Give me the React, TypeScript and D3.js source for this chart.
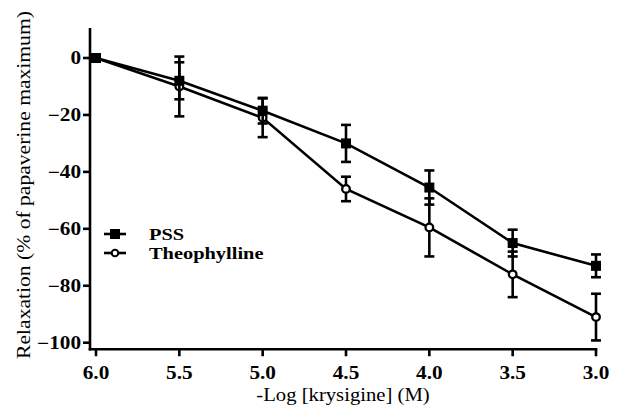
import React, { useEffect, useRef } from 'react';
import * as d3 from 'd3';

// -log concentrations on the x axis
const doses = [6.0, 5.5, 5.0, 4.5, 4.0, 3.5, 3.0];
const pssMean = [0, -8, -18.5, -30, -45.5, -65, -73];
const pssSem = [0, 6.5, 4.5, 6.5, 6, 4.7, 4];
const theoMean = [0, -10, -21, -46, -59.5, -76, -91];
const theoSem = [0, 10.5, 6.8, 4.3, 10.2, 8, 8.2];
const xTicks = [6.0, 5.5, 5.0, 4.5, 4.0, 3.5, 3.0];
const yTicks = [0, -20, -40, -60, -80, -100];
const seriesNames = ['PSS', 'Theophylline'];

const W = 618;
const H = 411;
const FONT = "'Times New Roman', 'Liberation Serif', serif";

export default function App() {
  const ref = useRef<SVGSVGElement>(null);

  useEffect(() => {
    const svg = d3.select(ref.current);
    svg.selectAll('*').remove();

    const x = d3.scaleLinear().domain([6.0, 3.0]).range([96, 596]);
    const y = d3.scaleLinear().domain([0, -100]).range([58, 342.7]);

    const axisX0 = x(6.036);
    const axisY0 = y(-102.3);
    const axisTop = y(10.5);

    // y axis
    const gy = svg.append('g').attr('transform', `translate(${axisX0},0)`);
    gy.append('line')
      .attr('y1', axisTop).attr('y2', axisY0 + 1.25)
      .attr('stroke', '#000').attr('stroke-width', 2.6);
    const yt = gy.selectAll('.yt').data(yTicks).enter().append('g')
      .attr('transform', (d) => `translate(0,${y(d)})`);
    yt.append('line').attr('x1', -7).attr('x2', 0)
      .attr('stroke', '#000').attr('stroke-width', 2.6);
    yt.append('text')
      .attr('transform', 'translate(-9,0) scale(1.18,1)')
      .attr('text-anchor', 'end')
      .attr('dy', '0.34em')
      .style('font-family', FONT).style('font-size', '18px').style('font-weight', 'bold')
      .text((d) => d3.format('d')(d));

    // x axis
    const gx = svg.append('g').attr('transform', `translate(0,${axisY0})`);
    gx.append('line')
      .attr('x1', axisX0 - 1.3).attr('x2', x(3.0) + 1.3)
      .attr('stroke', '#000').attr('stroke-width', 2.6);
    const xt = gx.selectAll('.xt').data(xTicks).enter().append('g')
      .attr('transform', (d) => `translate(${x(d)},0)`);
    xt.append('line').attr('y1', 0).attr('y2', 7)
      .attr('stroke', '#000').attr('stroke-width', 2.6);
    xt.append('text')
      .attr('transform', 'translate(0,30) scale(1.18,1)')
      .attr('text-anchor', 'middle')
      .style('font-family', FONT).style('font-size', '18px').style('font-weight', 'bold')
      .text((d) => d3.format('.1f')(d));

    // axis titles
    svg.append('text')
      .attr('transform', `translate(${(axisX0 + x(3.0)) / 2},401) scale(1.15,1)`)
      .attr('text-anchor', 'middle')
      .style('font-family', FONT).style('font-size', '18px')
      .text('-Log [krysigine] (M)');
    svg.append('text')
      .attr('transform', 'translate(30,185) rotate(-90) scale(1.2,1)')
      .attr('text-anchor', 'middle')
      .style('font-family', FONT).style('font-size', '18px')
      .text('Relaxation (% of papaverine maximum)');

    const line = d3.line<number>()
      .x((_, i) => x(doses[i]))
      .y((d) => y(d));

    const drawSeries = (mean: number[], sem: number[], kind: string) => {
      const g = svg.append('g');
      const idx = d3.range(mean.length).filter((i) => sem[i] > 0);
      const bars = g.selectAll('.err').data(idx).enter().append('g');
      bars.append('line')
        .attr('x1', (i) => x(doses[i])).attr('x2', (i) => x(doses[i]))
        .attr('y1', (i) => y(mean[i] + sem[i])).attr('y2', (i) => y(mean[i] - sem[i]))
        .attr('stroke', '#000').attr('stroke-width', 2.6);
      [1, -1].forEach((s) => {
        bars.append('line')
          .attr('x1', (i) => x(doses[i]) - 5).attr('x2', (i) => x(doses[i]) + 5)
          .attr('y1', (i) => y(mean[i] + s * sem[i])).attr('y2', (i) => y(mean[i] + s * sem[i]))
          .attr('stroke', '#000').attr('stroke-width', 2.6);
      });

      g.append('path')
        .attr('d', line(mean))
        .attr('fill', 'none').attr('stroke', '#000').attr('stroke-width', 2.6);

      if (kind === 'square') {
        g.selectAll('.pt').data(mean).enter().append('rect')
          .attr('x', (_, i) => x(doses[i]) - 5).attr('y', (d) => y(d) - 5)
          .attr('width', 10).attr('height', 10).attr('fill', '#000');
      } else {
        g.selectAll('.pt').data(mean).enter().append('circle')
          .attr('cx', (_, i) => x(doses[i])).attr('cy', (d) => y(d))
          .attr('r', 3.8).attr('fill', '#fff')
          .attr('stroke', '#000').attr('stroke-width', 2.3);
      }
    };

    drawSeries(theoMean, theoSem, 'circle');
    drawSeries(pssMean, pssSem, 'square');

    // legend
    const legend = svg.append('g');
    seriesNames.forEach((name, i) => {
      const ly = 234 + i * 19;
      legend.append('line')
        .attr('x1', 104).attr('x2', 126).attr('y1', ly).attr('y2', ly)
        .attr('stroke', '#000').attr('stroke-width', 2.6);
      if (i === 0) {
        legend.append('rect')
          .attr('x', 110).attr('y', ly - 5).attr('width', 10).attr('height', 10)
          .attr('fill', '#000');
      } else {
        legend.append('circle')
          .attr('cx', 115).attr('cy', ly).attr('r', 3.3)
          .attr('fill', '#fff').attr('stroke', '#000').attr('stroke-width', 2);
      }
      legend.append('text')
        .attr('transform', `translate(149,${ly + 6}) scale(1.2,1)`)
        .style('font-family', FONT).style('font-size', '17px').style('font-weight', 'bold')
        .text(name);
    });
  }, []);

  return (
    <svg
      ref={ref}
      width={W}
      height={H}
      style={{ position: 'absolute', left: 0, top: 0, background: '#fff' }}
    />
  );
}
